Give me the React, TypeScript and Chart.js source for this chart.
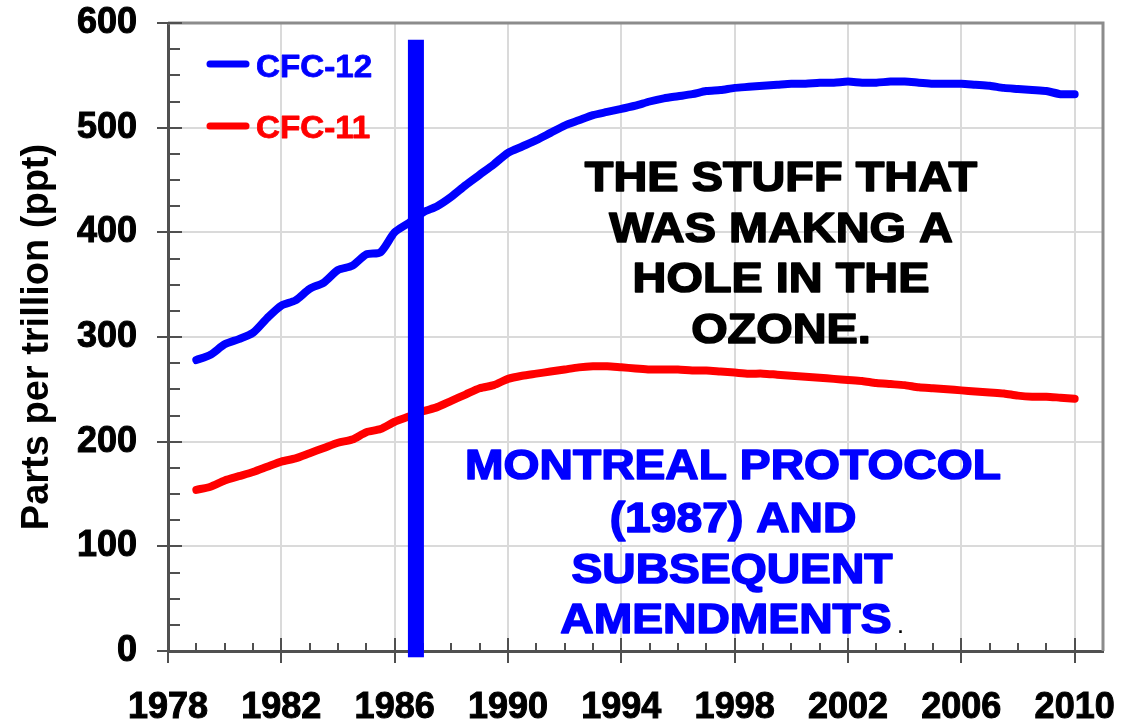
import { useEffect, useRef } from "react";
import { Chart, registerables } from "chart.js";

Chart.register(...registerables);

// ---- data ----
const YEARS = [
  1979, 1979.5, 1980, 1980.5, 1981, 1981.5, 1982, 1982.5, 1983, 1983.5,
  1984, 1984.5, 1985, 1985.5, 1986, 1986.5, 1987, 1987.5, 1988, 1988.5,
  1989, 1989.5, 1990, 1990.5, 1991, 1991.5, 1992, 1992.5, 1993, 1993.5,
  1994, 1994.5, 1995, 1995.5, 1996, 1996.5, 1997, 1997.5, 1998, 1998.5,
  1999, 1999.5, 2000, 2000.5, 2001, 2001.5, 2002, 2002.5, 2003, 2003.5,
  2004, 2004.5, 2005, 2005.5, 2006, 2006.5, 2007, 2007.5, 2008, 2008.5,
  2009, 2009.5, 2010,
];

const CFC12 = [
  278, 283, 293, 298, 304, 318, 330, 335, 346, 352,
  364, 368, 379, 381, 400, 409, 419, 425, 434, 445,
  455, 465, 476, 482, 488, 495, 502, 507, 512, 515,
  518, 521, 525, 528, 530, 532, 535, 536, 538, 539,
  540, 541, 542, 542, 543, 543, 544, 543, 543, 544,
  544, 543, 542, 542, 542, 541, 540, 538, 537, 536,
  535, 532, 532,
];

const CFC11 = [
  154, 157, 163, 167, 171, 176, 181, 184, 189, 194,
  199, 202, 209, 212, 219, 224, 229, 233, 239, 245,
  251, 254, 260, 263, 265, 267, 269, 271, 272, 272,
  271, 270, 269, 269, 269, 268, 268, 267, 266, 265,
  265, 264, 263, 262, 261, 260, 259, 258, 256, 255,
  254, 252, 251, 250, 249, 248, 247, 246, 244, 243,
  243, 242, 241,
];

const SERIES_LABELS = ["CFC-12", "CFC-11"];
const X_TICKS = [1978, 1982, 1986, 1990, 1994, 1998, 2002, 2006, 2010];
const X_MIN = 1978;
const X_MAX = 2011;
const Y_MIN = 0;
const Y_MAX = 600;
const Y_STEP = 100;
const Y_MINOR_STEP = 25;
const Y_TITLE = "Parts per trillion (ppt)";

const NOTE_OZONE = ["THE STUFF THAT", "WAS MAKNG A", "HOLE IN THE", "OZONE."];
const NOTE_MONTREAL = ["MONTREAL PROTOCOL", "(1987) AND", "SUBSEQUENT", "AMENDMENTS"];
const NOTE_END = ".";

// vertical marker (Montreal Protocol)
const MARKER_YEAR = 1986.75;
const MARKER_TOP = 584;
const MARKER_BOTTOM = -6;

// ---- styles ----
const FONT = '"Liberation Sans", Arial, Helvetica, sans-serif';
const BLUE = "#0000ff";
const RED = "#ff0000";
const COLORS = [BLUE, RED];

function drawStretched(
  ctx: CanvasRenderingContext2D,
  text: string,
  cx: number,
  baseline: number,
  sx: number,
  align: CanvasTextAlign,
  stroke: number
) {
  ctx.save();
  ctx.translate(cx, baseline);
  ctx.scale(sx, 1);
  ctx.textAlign = align;
  ctx.textBaseline = "alphabetic";
  ctx.fillText(text, 0, 0);
  if (stroke > 0) {
    ctx.strokeStyle = ctx.fillStyle as string;
    ctx.lineWidth = stroke;
    ctx.lineJoin = "round";
    ctx.strokeText(text, 0, 0);
  }
  ctx.restore();
}

const overlayPlugin = {
  id: "overlay",
  afterDraw(chart: any) {
    const { ctx, chartArea: ca, scales } = chart;
    const x = scales.x;
    const y = scales.y;
    ctx.save();

    // top / right frame
    ctx.strokeStyle = "#8c8c8c";
    ctx.lineWidth = 3;
    ctx.beginPath();
    ctx.moveTo(ca.left, ca.top);
    ctx.lineTo(ca.right, ca.top);
    ctx.lineTo(ca.right, ca.bottom);
    ctx.stroke();

    // tick marks
    ctx.strokeStyle = "#505050";
    ctx.lineWidth = 2;
    ctx.beginPath();
    for (let yr = X_MIN; yr < X_MAX; yr++) {
      const px = Math.round(x.getPixelForValue(yr));
      const major = X_TICKS.includes(yr);
      ctx.moveTo(px, ca.bottom + (major ? 12 : 0));
      ctx.lineTo(px, ca.bottom - (major ? 13 : 8));
    }
    for (let v = Y_MIN; v <= Y_MAX; v += Y_MINOR_STEP) {
      const py = Math.round(y.getPixelForValue(v));
      const major = v % Y_STEP === 0;
      ctx.moveTo(ca.left - (major ? 11 : 0), py);
      ctx.lineTo(ca.left + (major ? 14 : 12), py);
    }
    ctx.stroke();

    // vertical marker bar
    const mx = x.getPixelForValue(MARKER_YEAR);
    const myTop = y.getPixelForValue(MARKER_TOP);
    const myBot = y.getPixelForValue(MARKER_BOTTOM);
    ctx.fillStyle = BLUE;
    ctx.fillRect(mx - 8, myTop, 16, myBot - myTop);

    // legend
    const legendY = [ca.top + 41, ca.top + 103];
    const legendBase = [ca.top + 54, ca.top + 115];
    SERIES_LABELS.forEach((label, i) => {
      ctx.lineCap = "round";
      ctx.lineWidth = 7;
      ctx.strokeStyle = COLORS[i];
      ctx.beginPath();
      ctx.moveTo(ca.left + 42, legendY[i]);
      ctx.lineTo(ca.left + 78, legendY[i]);
      ctx.stroke();
      ctx.fillStyle = COLORS[i];
      ctx.font = `bold 31px ${FONT}`;
      drawStretched(ctx, label, ca.left + 88, legendBase[i], 1.07, "left", 0.8);
    });

    // black annotation
    ctx.fillStyle = "#000000";
    ctx.font = `bold 43px ${FONT}`;
    const ozoneBase = [191, 242, 292, 343];
    NOTE_OZONE.forEach((line, i) => drawStretched(ctx, line, 781, ozoneBase[i], 1.09, "center", 1.6));

    // blue annotation
    ctx.fillStyle = BLUE;
    ctx.font = `bold 43px ${FONT}`;
    const montBase = [479, 532, 583, 633];
    const montCx = [733, 733, 732, 726];
    NOTE_MONTREAL.forEach((line, i) => drawStretched(ctx, line, montCx[i], montBase[i], 1.075, "center", 1.6));
    ctx.fillStyle = "#000000";
    ctx.font = `bold 18px ${FONT}`;
    ctx.textAlign = "left";
    ctx.fillText(NOTE_END, 898, 633);

    ctx.restore();
  },
};

export default function App() {
  const canvasRef = useRef<HTMLCanvasElement | null>(null);

  useEffect(() => {
    const canvas = canvasRef.current;
    if (!canvas) return;
    const chart = new Chart(canvas, {
      type: "line",
      data: {
        datasets: [
          {
            label: SERIES_LABELS[0],
            data: YEARS.map((yr, i) => ({ x: yr, y: CFC12[i] })),
            borderColor: BLUE,
            backgroundColor: BLUE,
            borderWidth: 8,
            pointRadius: 0,
            tension: 0.25,
            borderCapStyle: "round",
            borderJoinStyle: "round",
          },
          {
            label: SERIES_LABELS[1],
            data: YEARS.map((yr, i) => ({ x: yr, y: CFC11[i] })),
            borderColor: RED,
            backgroundColor: RED,
            borderWidth: 8,
            pointRadius: 0,
            tension: 0.25,
            borderCapStyle: "round",
            borderJoinStyle: "round",
          },
        ],
      },
      options: {
        responsive: false,
        maintainAspectRatio: false,
        animation: false,
        layout: { padding: { top: 23, right: 28, left: 0, bottom: 0 } },
        plugins: {
          legend: { display: false },
          tooltip: { enabled: false },
        },
        scales: {
          x: {
            type: "linear",
            min: X_MIN,
            max: X_MAX,
            afterBuildTicks: (s: any) => {
              s.ticks = X_TICKS.map((v) => ({ value: v }));
            },
            afterFit: (s: any) => {
              s.height = 75;
              s.paddingLeft = 0;
              s.paddingRight = 0;
            },
            ticks: {
              autoSkip: false,
              maxRotation: 0,
              padding: 35,
              color: "#000000",
              textStrokeColor: "#000000",
              textStrokeWidth: 1,
              font: { family: FONT, size: 36, weight: "bold" },
              callback: (v: any) => String(v),
            },
            grid: { color: "#dadada", lineWidth: 2, drawTicks: false },
            border: { color: "#505050", width: 3 },
          },
          y: {
            type: "linear",
            min: Y_MIN,
            max: Y_MAX,
            afterFit: (s: any) => {
              s.width = 168;
              s.paddingTop = 0;
              s.paddingBottom = 0;
            },
            ticks: {
              stepSize: Y_STEP,
              padding: 31,
              color: "#000000",
              textStrokeColor: "#000000",
              textStrokeWidth: 1,
              font: { family: FONT, size: 36, weight: "bold" },
            },
            title: {
              display: true,
              text: Y_TITLE,
              color: "#000000",
              font: { family: FONT, size: 38, weight: "bold" },
              padding: { top: 15, bottom: 0 },
            },
            grid: { color: "#dadada", lineWidth: 2, drawTicks: false },
            border: { color: "#505050", width: 3 },
          },
        },
      },
      plugins: [overlayPlugin],
    } as any);
    return () => chart.destroy();
  }, []);

  return (
    <div style={{ position: "fixed", left: 0, top: 0, width: 1131, height: 726, background: "#ffffff" }}>
      <canvas ref={canvasRef} width={1131} height={726} />
    </div>
  );
}
